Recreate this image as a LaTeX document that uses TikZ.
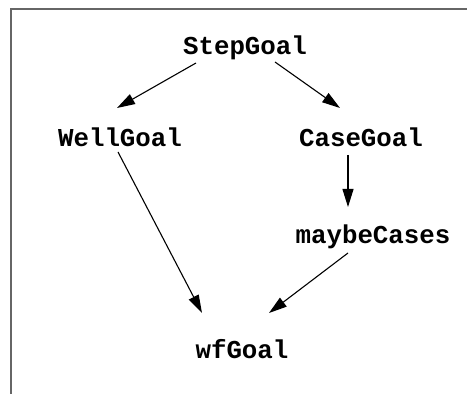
\documentclass[tikz,border=0pt]{standalone}
\usepackage{fontspec}
\setmonofont{Liberation Mono}
\usetikzlibrary{arrows.meta}

\tikzset{
    goal/.style={font=\fontsize{25.8}{30}\selectfont\ttfamily\bfseries, inner sep=0pt},
    dep/.style={-{Triangle[length=18pt, width=11pt]}, line width=1.1pt},
}

\begin{document}
\begin{tikzpicture}[x=1pt, y=1pt]
        \useasboundingbox (0, 0) rectangle (467, 394);
        \draw [black!60, line width=2pt] (10.5, 0) -- (10.5, 384.5) -- (467, 384.5);

        \node [goal] (step) at (245, 346) {StepGoal};
        \node [goal] (well) at (120, 257) {WellGoal};
        \node [goal] (case) at (361, 257) {CaseGoal};
        \node [goal] (maybe) at (373, 157) {maybeCases};
        \node [goal] (wf) at (242, 45) {wfGoal};

        \draw [dep] ([shift={(-49, -15)}]step.center) -- ([shift={(-3, 29)}]well.center);
        \draw [dep] ([shift={(30, -14)}]step.center) -- ([shift={(-21, 29)}]case.center);
        \draw [dep] ([shift={(-2, -15)}]well.center) -- ([shift={(-40, 36)}]wf.center);
        \draw [dep] ([shift={(-13, -18)}]case.center) -- ([shift={(-25, 30)}]maybe.center);
        \draw [dep] ([shift={(-25, -16)}]maybe.center) -- ([shift={(27, 36)}]wf.center);
    \end{tikzpicture}
\end{document}
